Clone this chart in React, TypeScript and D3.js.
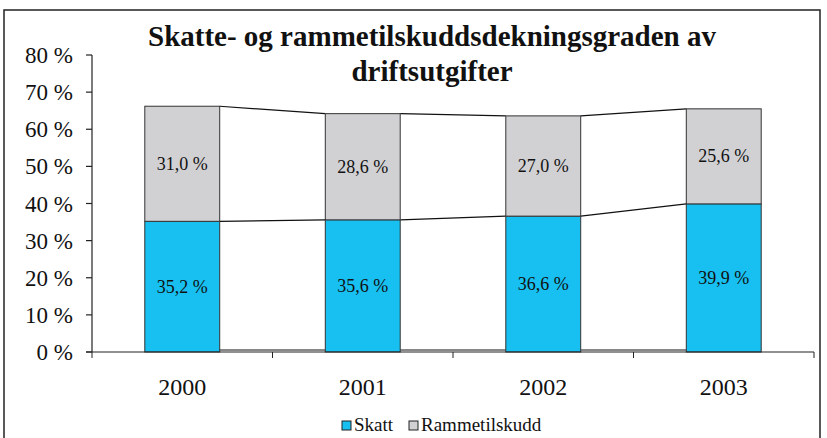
import React from "react";
import * as d3 from "d3";

const years = ["2000", "2001", "2002", "2003"];
const skatt = [35.2, 35.6, 36.6, 39.9];
const rammetilskudd = [31.0, 28.6, 27.0, 25.6];
const yTicks = [0, 10, 20, 30, 40, 50, 60, 70, 80];
const seriesNames = ["Skatt", "Rammetilskudd"];
const colors = ["#17C0F0", "#D1D1D4"];

const fmt = (v: number) => v.toFixed(1).replace(".", ",") + " %";

const FONT = "Liberation Serif";
const left = 92;
const right = 814;
const top = 55;
const bottom = 352;

const App: React.FC = () => {
  const x = d3.scaleBand().domain(years).range([left, right]).paddingInner(0.585).paddingOuter(0.2925);
  const y = d3.scaleLinear().domain([0, 80]).range([bottom, top]);
  const bw = x.bandwidth();
  const step = x.step();
  const totals = years.map((_, i) => skatt[i] + rammetilskudd[i]);

  // series lines between bars: base, skatt top, total top
  const seriesLines: { x1: number; x2: number; y1: number; y2: number }[] = [];
  for (let i = 0; i < years.length - 1; i++) {
    const x1 = (x(years[i]) || 0) + bw;
    const x2 = x(years[i + 1]) || 0;
    seriesLines.push({ x1, x2, y1: y(0) - 2, y2: y(0) - 2 });
    seriesLines.push({ x1, x2, y1: y(skatt[i]), y2: y(skatt[i + 1]) });
    seriesLines.push({ x1, x2, y1: y(totals[i]), y2: y(totals[i + 1]) });
  }

  const legendX = [342, 409];

  return (
    <svg width={827} height={438} style={{ position: "absolute", left: 0, top: 0 }}>
      <rect x={4} y={10} width={816} height={440} fill="white" stroke="#222" strokeWidth={1.5} />

      <text textAnchor="middle" fontWeight="bold" fontSize={29} fill="#111" fontFamily={FONT}>
        <tspan x={432} y={46}>Skatte- og rammetilskuddsdekningsgraden av</tspan>
        <tspan x={432} y={81}>driftsutgifter</tspan>
      </text>

      {seriesLines.map((l, i) => (
        <line key={i} {...l} stroke="#111" strokeWidth={1.2} />
      ))}

      {years.map((yr, i) => {
        const bx = x(yr) || 0;
        return (
          <g key={yr}>
            <rect x={bx} y={y(skatt[i])} width={bw} height={y(0) - y(skatt[i])} fill={colors[0]} stroke="#333" />
            <rect
              x={bx}
              y={y(totals[i])}
              width={bw}
              height={y(skatt[i]) - y(totals[i])}
              fill={colors[1]}
              stroke="#333"
            />
            <text x={bx + bw / 2} y={y(skatt[i] / 2) + 6} textAnchor="middle" fontSize={18} fill="#111" fontFamily={FONT}>
              {fmt(skatt[i])}
            </text>
            <text
              x={bx + bw / 2}
              y={y(skatt[i] + rammetilskudd[i] / 2) + 6}
              textAnchor="middle"
              fontSize={18}
              fill="#111"
              fontFamily={FONT}
            >
              {fmt(rammetilskudd[i])}
            </text>
          </g>
        );
      })}

      {/* y axis */}
      <line x1={left} x2={left} y1={top} y2={bottom} stroke="#222" strokeWidth={1.2} />
      {yTicks.map((t) => (
        <g key={t}>
          <line x1={left - 6} x2={left} y1={y(t)} y2={y(t)} stroke="#222" strokeWidth={1.2} />
          <text x={left - 19} y={y(t) + 8} textAnchor="end" fontSize={23} fill="#111" fontFamily={FONT}>
            {`${t} %`}
          </text>
        </g>
      ))}

      {/* x axis */}
      <line x1={left - 6} x2={right} y1={bottom} y2={bottom} stroke="#222" strokeWidth={1.2} />
      {d3.range(years.length + 1).map((i) => (
        <line key={i} x1={left + i * step} x2={left + i * step} y1={bottom} y2={bottom + 6} stroke="#222" />
      ))}
      {years.map((yr) => (
        <text
          key={yr}
          x={(x(yr) || 0) + bw / 2}
          y={bottom + 43}
          textAnchor="middle"
          fontSize={24}
          fill="#111"
          fontFamily={FONT}
        >
          {yr}
        </text>
      ))}

      {/* legend */}
      {seriesNames.map((name, i) => (
        <g key={name}>
          <rect x={legendX[i]} y={421} width={9} height={9} fill={colors[i]} stroke="#222" />
          <text x={legendX[i] + 12} y={431} fontSize={19} fill="#111" fontFamily={FONT}>
            {name}
          </text>
        </g>
      ))}
    </svg>
  );
};

export default App;
